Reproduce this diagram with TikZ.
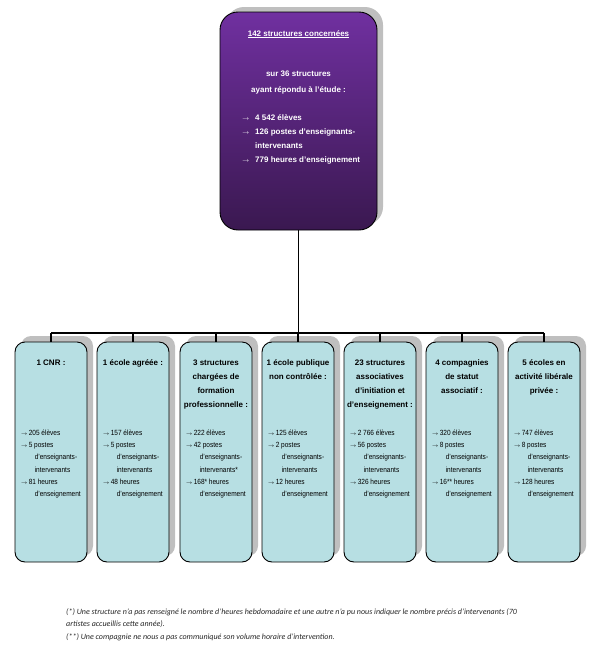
\documentclass[tikz,border=0pt]{standalone}
\usepackage{fontspec}
\setmainfont{Liberation Sans}
\newfontfamily\etroite{Liberation Sans}[FakeStretch=0.87]
\newfontfamily\notefont{Carlito}
\usetikzlibrary{shadows,calc}

\definecolor{violetclair}{HTML}{7030A0}
\definecolor{violetfonce}{HTML}{3A1850}
\definecolor{cyanpale}{HTML}{B7DFE3}
\definecolor{ombre}{HTML}{BFBFBF}

\tikzset{
  grande/.style={draw=black, line width=0.9pt, rounded corners=18pt,
    top color=violetclair, bottom color=violetfonce,
    minimum width=157pt, minimum height=218pt,
    drop shadow={shadow xshift=6pt, shadow yshift=5pt, fill=ombre, opacity=1}},
  boite/.style={draw=black, line width=0.9pt, rounded corners=10pt, fill=cyanpale,
    minimum width=72pt, minimum height=220pt,
    drop shadow={shadow xshift=6pt, shadow yshift=6pt, fill=ombre, opacity=1}},
  titre/.style={font=\fontsize{8}{10}\selectfont\bfseries, anchor=base, inner sep=0pt},
  liste/.style={font=\etroite\fontsize{7.5}{9}\selectfont, anchor=base west, inner sep=0pt},
  fleche/.style={font=\fontsize{5}{5}\selectfont, anchor=base west, inner sep=0pt},
  note/.style={font=\notefont\itshape\fontsize{8}{9}\selectfont, text=black!85, anchor=base west, inner sep=0pt},
  lien/.style={line width=1.3pt}
}

\begin{document}
\begin{tikzpicture}[x=1pt,y=1pt]
    \useasboundingbox (0,0) rectangle (595,-654);
    % grande boite du haut
    \node[grande] (total) at (298.5,-121) {};
    \node[titre, text=white] (total-t1) at (298.5,-36) {\underline{142 structures concernées}};
    \node[titre, text=white] (total-t2) at (298.5,-76) {sur 36 structures};
    \node[titre, text=white] (total-t3) at (298.5,-92) {ayant répondu à l’étude :};
    \foreach \y in {120,134,162}
        \node[fleche, font=\fontsize{6}{6}\selectfont, text=white] (total-f\y) at (242,-\y) {$\rightarrow$};
    \foreach \y/\t in {120/4 542 élèves, 134/126 postes d’enseignants-, 148/intervenants, 162/779 heures d’enseignement}
        \node[titre, anchor=base west, text=white] (total-l\y) at (255,-\y) {\t};
    % les sept structures
    \foreach \i/\x in {1/51,2/133,3/216,4/298,5/380,6/462,7/544}
        \node[boite] (s\i) at (\x,-452) {};
    \coordinate (bus) at (0,-333);
    \draw[lien] (total.south) -- (total.south |- bus);
    \draw[lien] (s1.north |- bus) -- (s7.north |- bus);
    \foreach \i in {1,...,7}
        \draw[lien] (s\i.north |- bus) -- (s\i.north);
    \foreach \i/\titres in {1/{1 CNR :}, 2/{1 école agréée :},
        3/{3 structures,chargées de,formation,professionnelle :},
        4/{1 école publique,non contrôlée :},
        5/{23 structures,associatives,d’initiation et,d’enseignement :},
        6/{4 compagnies,de statut,associatif :},
        7/{5 écoles en,activité libérale,privée :}}
    {
        \foreach \t [count=\k] in \titres
            \node[titre] (s\i-t\k) at ($(s\i.north)+(0,-24-14*\k+14)$) {\t};
    }
    \foreach \i/\el/\po/\iv/\he in {1/205/5/intervenants/81, 2/157/5/intervenants/48,
        3/222/42/intervenants*/168*, 4/125/2/intervenants/12, 5/2 766/56/intervenants/326,
        6/320/8/intervenants/16**, 7/747/8/intervenants/128}
    {
        \node[fleche] (s\i-f1) at ($(s\i.north west)+(6,-94)$) {$\rightarrow$};
        \node[liste] (s\i-l1) at ($(s\i.north west)+(14,-94)$) {\el{} élèves};
        \node[fleche] (s\i-f2) at ($(s\i.north west)+(6,-106)$) {$\rightarrow$};
        \node[liste] (s\i-l2) at ($(s\i.north west)+(14,-106)$) {\po{} postes};
        \node[liste] (s\i-l3) at ($(s\i.north west)+(20,-118)$) {d’enseignants-};
        \node[liste] (s\i-l4) at ($(s\i.north west)+(20,-131)$) {\iv};
        \node[fleche] (s\i-f3) at ($(s\i.north west)+(6,-143)$) {$\rightarrow$};
        \node[liste] (s\i-l5) at ($(s\i.north west)+(14,-143)$) {\he{} heures};
        \node[liste] (s\i-l6) at ($(s\i.north west)+(20,-155)$) {d’enseignement};
    }
    % notes
    \node[note] (note1) at (66,-614) {(*) Une structure n’a pas renseigné le nombre d’heures hebdomadaire et une autre n’a pu nous indiquer le nombre précis d’intervenants (70};
    \node[note] (note2) at (66,-626) {artistes accueillis cette année).};
    \node[note] (note3) at (66,-639) {(**) Une compagnie ne nous a pas communiqué son volume horaire d’intervention.};
\end{tikzpicture}
\end{document}
